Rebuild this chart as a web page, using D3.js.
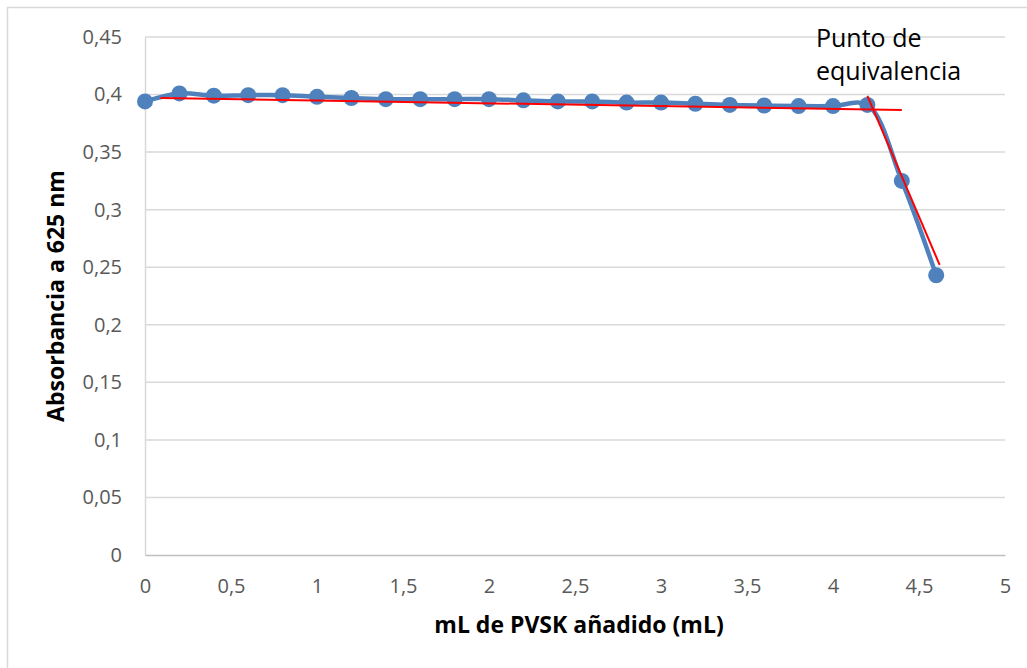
<!DOCTYPE html>
<html>
<head>
<meta charset="utf-8">
<script src="https://cdn.jsdelivr.net/npm/d3@7"></script>
<style>
  body { margin: 0; background: #fff; }
  svg { display: block; font-family: "Open Sans", sans-serif; }
</style>
</head>
<body>
<div id="chart"></div>
<script>
// mL de PVSK añadido
let volumes = [0, 0.2, 0.4, 0.6, 0.8, 1, 1.2, 1.4, 1.6, 1.8, 2, 2.2, 2.4, 2.6, 2.8, 3, 3.2, 3.4, 3.6, 3.8, 4, 4.2, 4.4, 4.6];
// Absorbancia a 625 nm
let absorbance = [0.394, 0.401, 0.399, 0.3995, 0.3995, 0.398, 0.397, 0.396, 0.396, 0.396, 0.396, 0.395, 0.394, 0.394, 0.393, 0.393, 0.392, 0.391, 0.3905, 0.390, 0.390, 0.391, 0.325, 0.243];

// hand drawn trend lines (red)
let flatLineX = [0.09, 4.4];
let flatLineY = [0.397, 0.3866];
let dropLineX = [4.2, 4.62];
let dropLineY = [0.3988, 0.252];

let xTicks = [0, 0.5, 1, 1.5, 2, 2.5, 3, 3.5, 4, 4.5, 5];
let yTicks = [0, 0.05, 0.1, 0.15, 0.2, 0.25, 0.3, 0.35, 0.4, 0.45];

let annotation = ["Punto de", "equivalencia"];

const fmt = v => String(v).replace(".", ",");

let width = 1027, height = 668;

let svg = d3.select("#chart")
  .append("svg")
  .attr("width", width)
  .attr("height", height);

// outer chart border
svg.append("rect")
  .attr("x", 7.5)
  .attr("y", 7.5)
  .attr("width", width + 10)
  .attr("height", height + 10)
  .attr("fill", "none")
  .attr("stroke", "#d9d9d9")
  .attr("stroke-width", 1.5);

let x = d3.scaleLinear().domain([0, 5]).range([145, 1005]);
let y = d3.scaleLinear().domain([0, 0.45]).range([555, 37]);

// gridlines
svg.append("g")
  .selectAll("line")
  .data(yTicks.slice(1))
  .enter()
  .append("line")
  .attr("x1", x(0))
  .attr("x2", x(5))
  .attr("y1", d => y(d))
  .attr("y2", d => y(d))
  .attr("stroke", "#d9d9d9")
  .attr("stroke-width", 1.5);

// Y axis
let yAxis = svg.append("g")
  .attr("transform", "translate(" + x(0) + ",0)")
  .call(d3.axisLeft(y).tickValues(yTicks).tickFormat(fmt).tickSize(0).tickPadding(23));
yAxis.select(".domain").attr("stroke", "#d9d9d9").attr("stroke-width", 1.5);
yAxis.selectAll("text")
  .attr("fill", "#595959")
  .style("font-size", "20px")
  .style("font-family", "Open Sans");

// X axis
let xAxis = svg.append("g")
  .attr("transform", "translate(0," + y(0) + ")")
  .call(d3.axisBottom(x).tickValues(xTicks).tickFormat(fmt).tickSize(0).tickPadding(24));
xAxis.select(".domain").attr("stroke", "#bfbfbf").attr("stroke-width", 1.5);
xAxis.selectAll("text")
  .attr("fill", "#595959")
  .style("font-size", "20px")
  .style("font-family", "Open Sans");

// Axis titles
svg.append("text")
  .attr("text-anchor", "middle")
  .attr("x", 579)
  .attr("y", 633)
  .style("font-size", "23px")
  .style("font-weight", "bold")
  .text("mL de PVSK añadido (mL)");

svg.append("text")
  .attr("text-anchor", "middle")
  .attr("transform", "translate(64,296) rotate(-90)")
  .style("font-size", "23px")
  .style("font-weight", "bold")
  .text("Absorbancia a 625 nm");

// Data line (smoothed, like the spreadsheet)
let points = volumes.map((v, i) => [v, absorbance[i]]);

let line = d3.line()
  .x(d => x(d[0]))
  .y(d => y(d[1]))
  .curve(d3.curveCatmullRom.alpha(0.5));

svg.append("path")
  .datum(points)
  .attr("d", line)
  .attr("fill", "none")
  .attr("stroke", "#4f81bd")
  .attr("stroke-width", 4.5)
  .attr("stroke-linejoin", "round");

svg.append("g")
  .selectAll("circle")
  .data(points)
  .enter()
  .append("circle")
  .attr("cx", d => x(d[0]))
  .attr("cy", d => y(d[1]))
  .attr("r", 8)
  .attr("fill", "#4f81bd");

// Red trend lines
let straight = d3.line().x(d => x(d[0])).y(d => y(d[1]));
[[flatLineX, flatLineY], [dropLineX, dropLineY]].forEach(function (l) {
  svg.append("path")
    .datum(l[0].map((v, i) => [v, l[1][i]]))
    .attr("d", straight)
    .attr("fill", "none")
    .attr("stroke", "#ff0000")
    .attr("stroke-width", 2);
});

// Annotation
svg.append("text")
  .attr("x", 816)
  .attr("y", 47)
  .style("font-size", "25px")
  .attr("fill", "#000")
  .selectAll("tspan")
  .data(annotation)
  .enter()
  .append("tspan")
  .attr("x", 816)
  .attr("dy", (d, i) => i === 0 ? 0 : 33)
  .text(d => d);
</script>
</body>
</html>
